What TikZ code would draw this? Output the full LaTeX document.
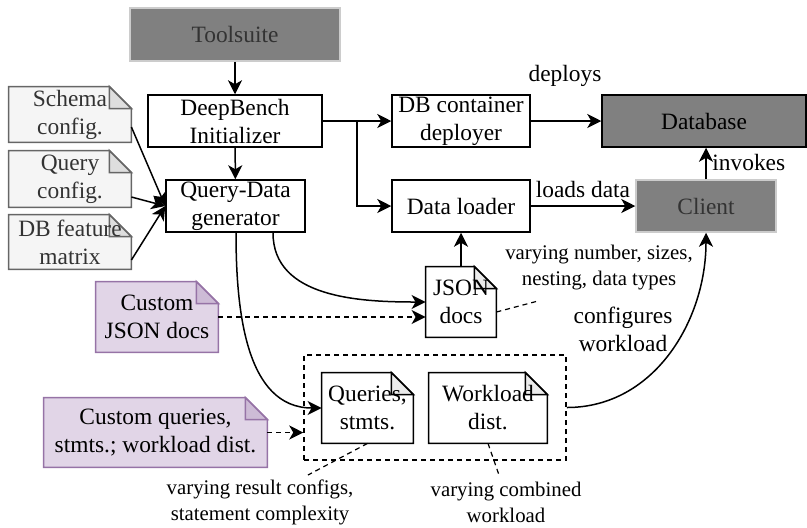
\documentclass[tikz,border=0pt]{standalone}
\usepackage{fontspec}
\setmainfont{Liberation Serif}
\usetikzlibrary{positioning, calc, arrows.meta}

\definecolor{midgray}{HTML}{808080}
\definecolor{paleedge}{HTML}{CCCCCC}
\definecolor{softtext}{HTML}{333333}
\definecolor{notefill}{HTML}{F5F5F5}
\definecolor{noteedge}{HTML}{666666}
\definecolor{notefold}{HTML}{DEDEDE}
\definecolor{lilac}{HTML}{E1D5E7}
\definecolor{lilacedge}{HTML}{9673A6}
\definecolor{lilacfold}{HTML}{CDBBD6}
\definecolor{whitefold}{HTML}{EBEBEB}

\pgfdeclarelayer{background}
\pgfsetlayers{background,main}

% folded paper behind a node: name, border, fill, fold
\newcommand{\notepaper}[4]{%
  \begin{pgfonlayer}{background}
    \filldraw[draw=#2, fill=#3, line width=0.75pt]
      (#1.north west) -- ($(#1.north east)+(-22,0)$) -- ($(#1.north east)+(0,22)$)
      -- (#1.south east) -- (#1.south west) -- cycle;
    \filldraw[draw=#2, fill=#4, line width=0.75pt]
      ($(#1.north east)+(-22,0)$) -- ($(#1.north east)+(-22,22)$) -- ($(#1.north east)+(0,22)$) -- cycle;
  \end{pgfonlayer}}

\begin{document}
\begin{tikzpicture}[x=0.5pt, y=-0.5pt,
    font=\fontsize{11.7}{14}\selectfont,
    box/.style={draw, line width=0.75pt, align=center, inner sep=0pt, minimum height=26pt},
    graybox/.style={box, fill=midgray, draw=paleedge, text=softtext},
    paper/.style={align=center, inner sep=0pt, minimum height=35pt},
    smalltext/.style={align=center, font=\fontsize{10.4}{13}\selectfont},
    arr/.style={-{Stealth[length=7pt, width=7pt, inset=2pt]}, line width=0.75pt},
    dasharr/.style={arr, dash pattern=on 2.5pt off 2pt},
    hint/.style={line width=0.6pt, dash pattern=on 2.5pt off 2pt}]
        \useasboundingbox (0,0) rectangle (807,527);

        % the main boxes
        \node[graybox, minimum width=105pt, minimum height=26.5pt] (toolsuite) at (235,34.5) {Toolsuite};
        \node[box, minimum width=87pt] (init) at (235,121) {DeepBench\\Initializer};
        \node[box, minimum width=69.5pt] (qdgen) at (235.5,206) {Query-Data\\generator};
        \node[box, minimum width=69pt] (deployer) at (461,121) {DB container\\deployer};
        \node[box, fill=midgray, minimum width=102pt] (database) at (704,121) {Database};
        \node[box, minimum width=69pt] (loader) at (461,206) {Data loader};
        \node[graybox, minimum width=70pt] (client) at (706,206) {Client};

        % config files
        \node[paper, minimum width=61pt, minimum height=27.5pt, text=softtext] (schema) at (70,114.5) {Schema\\config.};
        \node[paper, minimum width=61pt, minimum height=28pt, text=softtext] (qconfig) at (70,179) {Query\\config.};
        \node[paper, minimum width=61pt, minimum height=27pt, text=softtext] (featmatrix) at (70,242) {DB feature\\matrix};
        \notepaper{schema}{noteedge}{notefill}{notefold}
        \notepaper{qconfig}{noteedge}{notefill}{notefold}
        \notepaper{featmatrix}{noteedge}{notefill}{notefold}

        % custom inputs
        \node[paper, minimum width=61pt] (customjson) at (157,317) {Custom\\JSON docs};
        \node[paper, minimum width=111.5pt, minimum height=34.5pt] (customq) at (155.5,432.5) {Custom queries,\\stmts.; workload dist.};
        \notepaper{customjson}{lilacedge}{lilac}{lilacfold}
        \notepaper{customq}{lilacedge}{lilac}{lilacfold}

        % generated files
        \node[paper, minimum width=35pt] (jsondocs) at (461,302) {JSON\\docs};
        \node[paper, minimum width=45.5pt] (queries) at (367.5,408) {Queries,\\stmts.};
        \node[paper, minimum width=59pt] (wdist) at (488,408) {Workload\\dist.};
        \notepaper{jsondocs}{black}{white}{whitefold}
        \notepaper{queries}{black}{white}{whitefold}
        \notepaper{wdist}{black}{white}{whitefold}
        \node[draw, dash pattern=on 2.5pt off 2pt, line width=0.75pt, inner sep=0pt,
              minimum width=131pt, minimum height=52.5pt] (group) at (435,407.5) {};

        % labels
        \node (deploys) at (565,76) {deploys};
        \node[anchor=west, inner sep=0pt] (invokes) at (712,162) {invokes};
        \node (loads) at (583,189) {loads data};
        \node[smalltext] (varyjson) at (599,268) {varying number, sizes,\\nesting, data types};
        \node[align=center] (configures) at (623,329) {configures\\workload};
        \node[smalltext] (varyquery) at (260,502) {varying result configs,\\statement complexity};
        \node[smalltext] (varywork) at (506,502) {varying combined\\workload};

        % connectors
        \coordinate (split) at (357,121);
        \draw[arr] (toolsuite) -- (init);
        \draw[arr] (init) -- (qdgen);
        \draw[arr] (init) -- (deployer);
        \draw[arr] (split) |- (loader);
        \draw[arr] (deployer) -- (database);
        \draw[arr] (loader) -- (client);
        \draw[arr] (client.north) -- (client.north |- database.south);
        \draw[arr] (jsondocs) -- (loader);
        \draw[arr] ($(schema.east)+(0,12.5)$) -- (qdgen.west);
        \draw[arr] ($(qconfig.east)+(0,18)$) -- (qdgen.west);
        \draw[arr] ($(featmatrix.east)+(0,18)$) -- (qdgen.west);
        \draw[arr] ($(qdgen.south)+(37.5,0)$) to[out=-90, in=180] (jsondocs.west);
        \draw[arr] ($(qdgen.south)+(0.5,0)$) to[out=-90, in=180] (queries.west);
        \draw[dasharr] (customjson.east) -- (customjson.east -| jsondocs.west);
        \draw[dasharr] (customq.east) -- (customq.east -| group.west);
        \draw[arr] (group.east) to[out=0, in=-90] (client.south);

        % dashed hints
        \coordinate (hintjson) at (538,301);
        \coordinate (hintq) at (308,475);
        \coordinate (hintw) at (499,475);
        \draw[hint] ($(jsondocs.east)+(0,10)$) -- (hintjson);
        \draw[hint] (queries.south) -- (hintq);
        \draw[hint] (wdist.south) -- (hintw);
    \end{tikzpicture}
\end{document}
